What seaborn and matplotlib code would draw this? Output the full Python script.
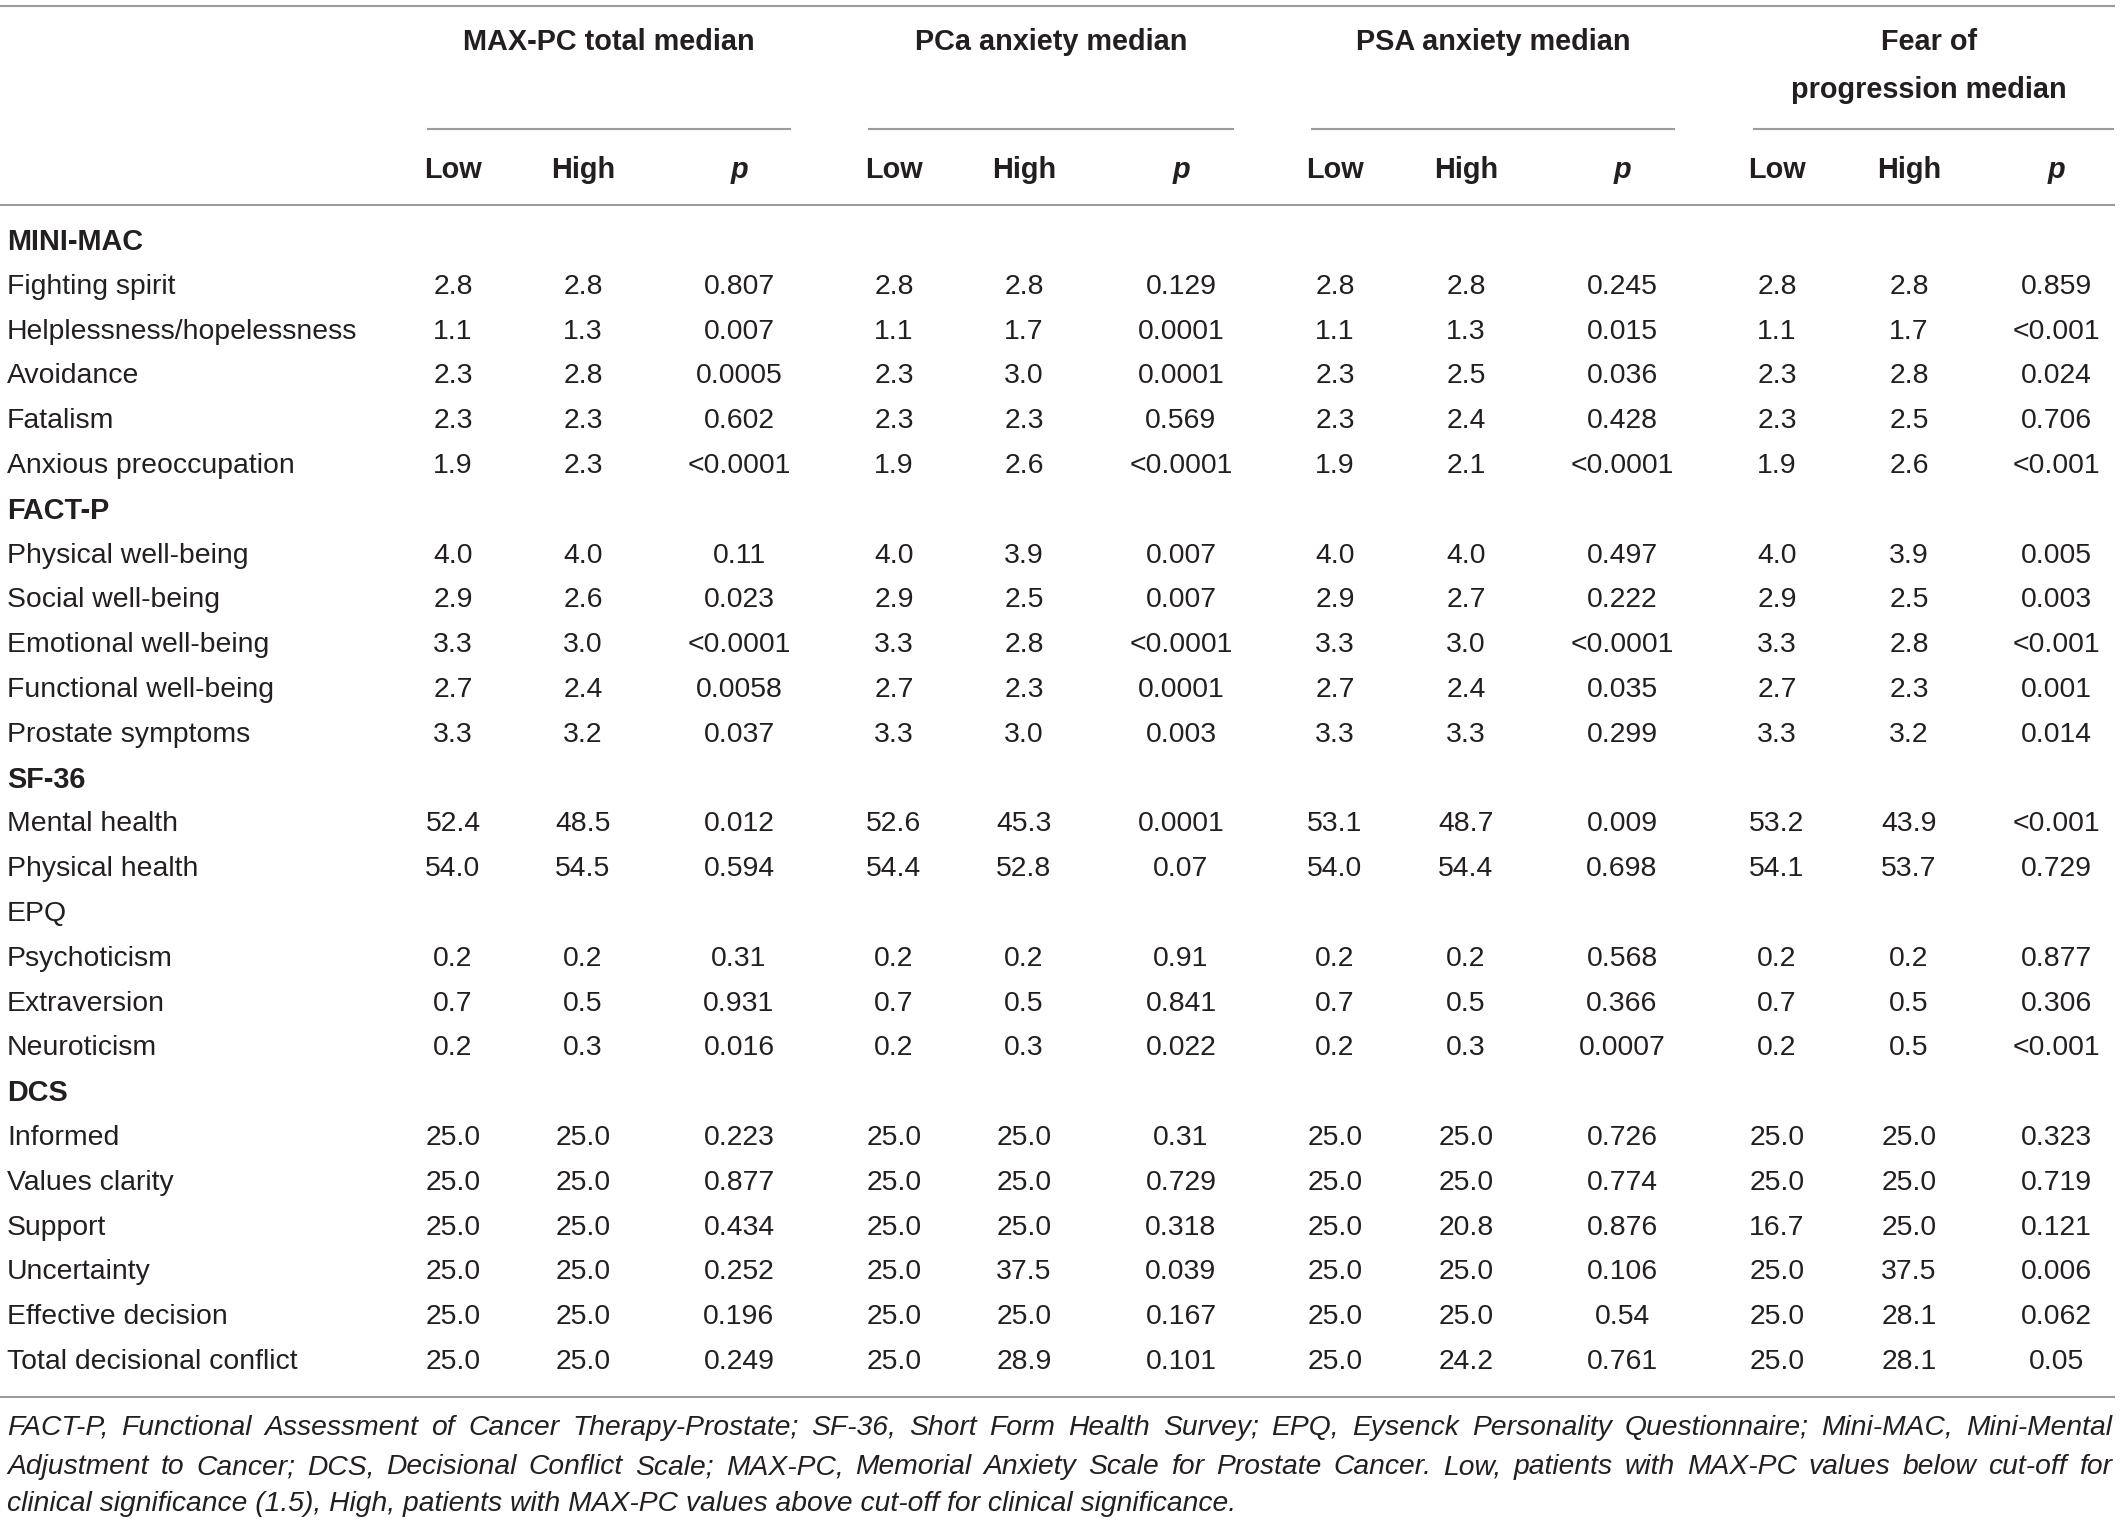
import matplotlib
matplotlib.use("Agg")
import matplotlib.pyplot as plt
import seaborn as sns

# DATA
row_labels = [
    "MINI-MAC", "Fighting spirit", "Helplessness/hopelessness", "Avoidance", "Fatalism",
    "Anxious preoccupation",
    "FACT-P", "Physical well-being", "Social well-being", "Emotional well-being",
    "Functional well-being", "Prostate symptoms",
    "SF-36", "Mental health", "Physical health",
    "EPQ", "Psychoticism", "Extraversion", "Neuroticism",
    "DCS", "Informed", "Values clarity", "Support", "Uncertainty", "Effective decision",
    "Total decisional conflict",
]
section_rows = ["MINI-MAC", "FACT-P", "SF-36", "EPQ", "DCS"]
bold_sections = ["MINI-MAC", "FACT-P", "SF-36", "DCS"]

group_names = ["MAX-PC total median", "PCa anxiety median", "PSA anxiety median",
               "Fear of\nprogression median"]
sub_headers = ["Low", "High", "p"]

maxpc_low = ["2.8", "1.1", "2.3", "2.3", "1.9", "4.0", "2.9", "3.3", "2.7", "3.3", "52.4", "54.0",
             "0.2", "0.7", "0.2", "25.0", "25.0", "25.0", "25.0", "25.0", "25.0"]
maxpc_high = ["2.8", "1.3", "2.8", "2.3", "2.3", "4.0", "2.6", "3.0", "2.4", "3.2", "48.5", "54.5",
              "0.2", "0.5", "0.3", "25.0", "25.0", "25.0", "25.0", "25.0", "25.0"]
maxpc_p = ["0.807", "0.007", "0.0005", "0.602", "<0.0001", "0.11", "0.023", "<0.0001", "0.0058",
           "0.037", "0.012", "0.594", "0.31", "0.931", "0.016", "0.223", "0.877", "0.434", "0.252",
           "0.196", "0.249"]

pca_low = ["2.8", "1.1", "2.3", "2.3", "1.9", "4.0", "2.9", "3.3", "2.7", "3.3", "52.6", "54.4",
           "0.2", "0.7", "0.2", "25.0", "25.0", "25.0", "25.0", "25.0", "25.0"]
pca_high = ["2.8", "1.7", "3.0", "2.3", "2.6", "3.9", "2.5", "2.8", "2.3", "3.0", "45.3", "52.8",
            "0.2", "0.5", "0.3", "25.0", "25.0", "25.0", "37.5", "25.0", "28.9"]
pca_p = ["0.129", "0.0001", "0.0001", "0.569", "<0.0001", "0.007", "0.007", "<0.0001", "0.0001",
         "0.003", "0.0001", "0.07", "0.91", "0.841", "0.022", "0.31", "0.729", "0.318", "0.039",
         "0.167", "0.101"]

psa_low = ["2.8", "1.1", "2.3", "2.3", "1.9", "4.0", "2.9", "3.3", "2.7", "3.3", "53.1", "54.0",
           "0.2", "0.7", "0.2", "25.0", "25.0", "25.0", "25.0", "25.0", "25.0"]
psa_high = ["2.8", "1.3", "2.5", "2.4", "2.1", "4.0", "2.7", "3.0", "2.4", "3.3", "48.7", "54.4",
            "0.2", "0.5", "0.3", "25.0", "25.0", "20.8", "25.0", "25.0", "24.2"]
psa_p = ["0.245", "0.015", "0.036", "0.428", "<0.0001", "0.497", "0.222", "<0.0001", "0.035",
         "0.299", "0.009", "0.698", "0.568", "0.366", "0.0007", "0.726", "0.774", "0.876", "0.106",
         "0.54", "0.761"]

fop_low = ["2.8", "1.1", "2.3", "2.3", "1.9", "4.0", "2.9", "3.3", "2.7", "3.3", "53.2", "54.1",
           "0.2", "0.7", "0.2", "25.0", "25.0", "16.7", "25.0", "25.0", "25.0"]
fop_high = ["2.8", "1.7", "2.8", "2.5", "2.6", "3.9", "2.5", "2.8", "2.3", "3.2", "43.9", "53.7",
            "0.2", "0.5", "0.5", "25.0", "25.0", "25.0", "37.5", "28.1", "28.1"]
fop_p = ["0.859", "<0.001", "0.024", "0.706", "<0.001", "0.005", "0.003", "<0.001", "0.001",
         "0.014", "<0.001", "0.729", "0.877", "0.306", "<0.001", "0.323", "0.719", "0.121", "0.006",
         "0.062", "0.05"]

footnote = [
    "FACT-P, Functional Assessment of Cancer Therapy-Prostate; SF-36, Short Form Health Survey; "
    "EPQ, Eysenck Personality Questionnaire; Mini-MAC, Mini-Mental",
    "Adjustment to Cancer; DCS, Decisional Conflict Scale; MAX-PC, Memorial Anxiety Scale for "
    "Prostate Cancer. Low, patients with MAX-PC values below cut-off for",
    "clinical significance (1.5), High, patients with MAX-PC values above cut-off for clinical "
    "significance.",
]

groups = [
    (maxpc_low, maxpc_high, maxpc_p),
    (pca_low, pca_high, pca_p),
    (psa_low, psa_high, psa_p),
    (fop_low, fop_high, fop_p),
]

# STYLE
sns.set_theme(style="white")
plt.rcParams["font.family"] = ["Liberation Sans", "DejaVu Sans"]
txt_color = "#231f20"
rule_color = "#9b9b9b"
fs = 20.4
fs_head = 20.8
fs_foot = 20.3

# layout (pixels, figure is 2121 x 1521 at dpi 100)
W, H = 2121, 1521
low_x = [453, 894, 1335, 1777]
high_x = [583, 1024, 1466, 1909]
p_x = [739, 1181, 1622, 2056]
group_x = [609, 1051, 1493, 1929]
subline = [(427, 791), (868, 1234), (1311, 1675), (1753, 2114)]
row_y0, row_step = 242, 44.8

fig = plt.figure(figsize=(W / 100, H / 100), dpi=100)
ax = fig.add_axes([0, 0, 1, 1])
ax.set_xlim(0, W)
ax.set_ylim(H, 0)
ax.axis("off")

# rules
for y in [6, 205, 1397]:
    ax.plot([0, 2115], [y, y], color=rule_color, lw=1.5, solid_capstyle="butt")
for x0, x1 in subline:
    ax.plot([x0, x1], [129, 129], color=rule_color, lw=1.5, solid_capstyle="butt")

# header
for i, name in enumerate(group_names):
    if "\n" in name:
        top, bottom = name.split("\n")
        ax.text(group_x[i], 42, top, ha="center", va="center", fontsize=fs_head,
                fontweight="bold", color=txt_color)
        ax.text(group_x[i], 90, bottom, ha="center", va="center", fontsize=fs_head,
                fontweight="bold", color=txt_color)
    else:
        ax.text(group_x[i], 42, name, ha="center", va="center", fontsize=fs_head,
                fontweight="bold", color=txt_color)
    for xs, lab in zip([low_x, high_x, p_x], sub_headers):
        ax.text(xs[i], 170, lab, ha="center", va="center", fontsize=fs_head, fontweight="bold",
                color=txt_color, style="italic" if lab == "p" else "normal")

# body
k = 0
for r, label in enumerate(row_labels):
    y = row_y0 + r * row_step
    if label in section_rows:
        ax.text(7, y, label, ha="left", va="center", fontsize=fs_head if label in bold_sections else fs,
                color=txt_color, fontweight="bold" if label in bold_sections else "normal")
        continue
    ax.text(7, y, label, ha="left", va="center", fontsize=fs, color=txt_color)
    for g, (lo, hi, pv) in enumerate(groups):
        ax.text(low_x[g], y, lo[k], ha="center", va="center", fontsize=fs, color=txt_color)
        ax.text(high_x[g], y, hi[k], ha="center", va="center", fontsize=fs, color=txt_color)
        ax.text(p_x[g], y, pv[k], ha="center", va="center", fontsize=fs, color=txt_color)
    k += 1

# footnote, first two lines justified
renderer = fig.canvas.get_renderer()
foot_y = [1428, 1467, 1504]
left, right = 7, 2112
for li, line in enumerate(footnote):
    if li == len(footnote) - 1:
        ax.text(left, foot_y[li], line, ha="left", va="center", fontsize=fs_foot,
                style="italic", color=txt_color)
        continue
    words = line.split(" ")
    objs = [ax.text(0, foot_y[li], w, ha="left", va="center", fontsize=fs_foot,
                    style="italic", color=txt_color) for w in words]
    inv = ax.transData.inverted()
    widths = []
    for t in objs:
        bb = t.get_window_extent(renderer=renderer)
        x0d = inv.transform((bb.x0, 0))[0]
        x1d = inv.transform((bb.x1, 0))[0]
        widths.append(x1d - x0d)
    gap = (right - left - sum(widths)) / (len(words) - 1)
    x = left
    for t, w in zip(objs, widths):
        t.set_x(x)
        x += w + gap

fig.savefig("out.png", dpi=100, facecolor="white")
